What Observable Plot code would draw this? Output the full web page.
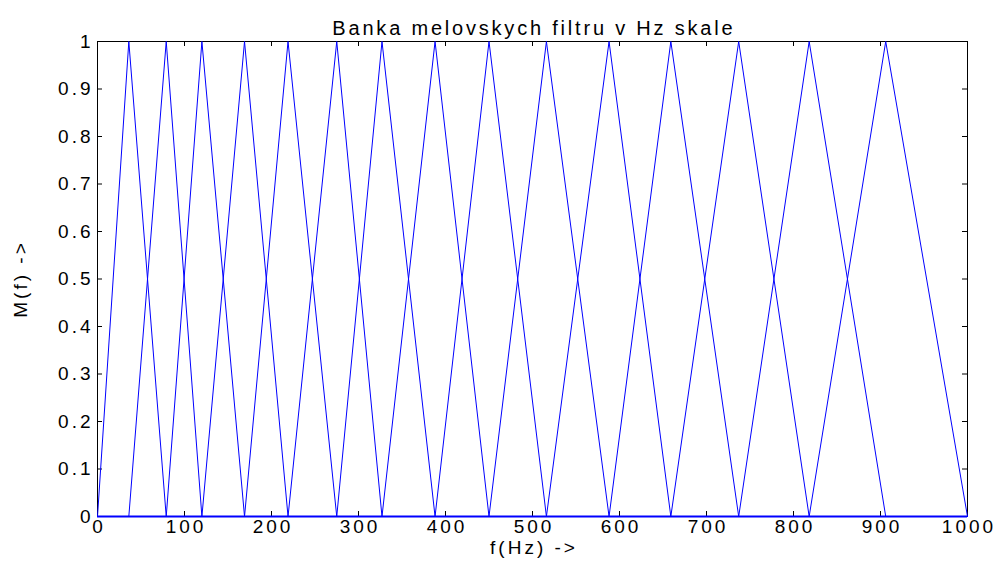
<!DOCTYPE html>
<html>
<head>
<meta charset="utf-8">
<script src="https://cdn.jsdelivr.net/npm/d3@7"></script>
<script src="https://cdn.jsdelivr.net/npm/@observablehq/plot@0.6"></script>
<style>
  html, body { margin: 0; padding: 0; background: #fff; }
  svg { font-family: "Liberation Sans", Arial, sans-serif; }
  svg text { letter-spacing: 3px; }
  svg .title-text text { letter-spacing: 2.8px; }
</style>
</head>
<body>
<div id="chart"></div>
<script>
// Filter centre frequencies (Hz)
const edgesHz = [0, 36, 79, 120, 169, 219, 275, 327, 388, 450, 516, 588, 659, 737, 818, 906, 1000];
const xTicks = [0, 100, 200, 300, 400, 500, 600, 700, 800, 900, 1000];
const yTicks = [0, 0.1, 0.2, 0.3, 0.4, 0.5, 0.6, 0.7, 0.8, 0.9, 1];
const yTickLabels = ["0", "0.1", "0.2", "0.3", "0.4", "0.5", "0.6", "0.7", "0.8", "0.9", "1"];
const titleText = "Banka melovskych filtru v Hz skale";
const xLabel = "f(Hz) ->";
const yLabel = "M(f) ->";

// Build triangular filters: each spans from previous centre to next centre
const rows = [];
for (let i = 0; i + 2 < edgesHz.length; i++) {
  rows.push({filter: i, f: 0, m: 0});
  rows.push({filter: i, f: edgesHz[i], m: 0});
  rows.push({filter: i, f: edgesHz[i + 1], m: 1});
  rows.push({filter: i, f: edgesHz[i + 2], m: 0});
  rows.push({filter: i, f: 1000, m: 0});
}

const W = 997, H = 563;
const mL = 97, mR = 30, mT = 41, mB = 47;
const innerH = H - mT - mB, innerW = W - mL - mR;
const tick = 5;

const chart = Plot.plot({
  width: W, height: H,
  marginLeft: mL, marginRight: mR, marginTop: mT, marginBottom: mB,
  style: {fontFamily: "'Liberation Sans', Arial, sans-serif", fontSize: "19px", color: "black", background: "white"},
  x: {domain: [0, 1000]},
  y: {domain: [0, 1]},
  marks: [
    Plot.frame({stroke: "black", strokeWidth: 1}),
    // inward ticks on all four sides
    Plot.tickX(xTicks, {x: d => d, insetTop: innerH - tick, stroke: "black"}),
    Plot.tickX(xTicks, {x: d => d, insetBottom: innerH - tick, stroke: "black"}),
    Plot.tickY(yTicks, {y: d => d, insetRight: innerW - tick, stroke: "black"}),
    Plot.tickY(yTicks, {y: d => d, insetLeft: innerW - tick, stroke: "black"}),
    Plot.axisX({ticks: xTicks, tickSize: 0, tickPadding: 3, dx: 1.5, tickFormat: d => String(d), label: null, fontSize: 19}),
    Plot.axisY({ticks: yTicks, tickSize: 0, tickPadding: 4, tickFormat: d => yTickLabels[yTicks.indexOf(d)], label: null, fontSize: 19}),
    Plot.line(rows, {x: "f", y: "m", z: "filter", stroke: "#0000ff", strokeWidth: 1}),
    Plot.ruleY([0], {stroke: "#0000ff", strokeWidth: 2}),
    Plot.text([titleText], {frameAnchor: "top", dy: -21, dx: 1.4, fontSize: 20, fill: "black", className: "title-text"}),
    Plot.text([xLabel], {frameAnchor: "bottom", dy: 37, dx: 1.5, fontSize: 19, fill: "black"}),
    Plot.text([yLabel], {frameAnchor: "left", textAnchor: "middle", dx: -77, dy: 0, rotate: -90, fontSize: 19, fill: "black"})
  ]
});
document.getElementById("chart").appendChild(chart);
</script>
</body>
</html>
